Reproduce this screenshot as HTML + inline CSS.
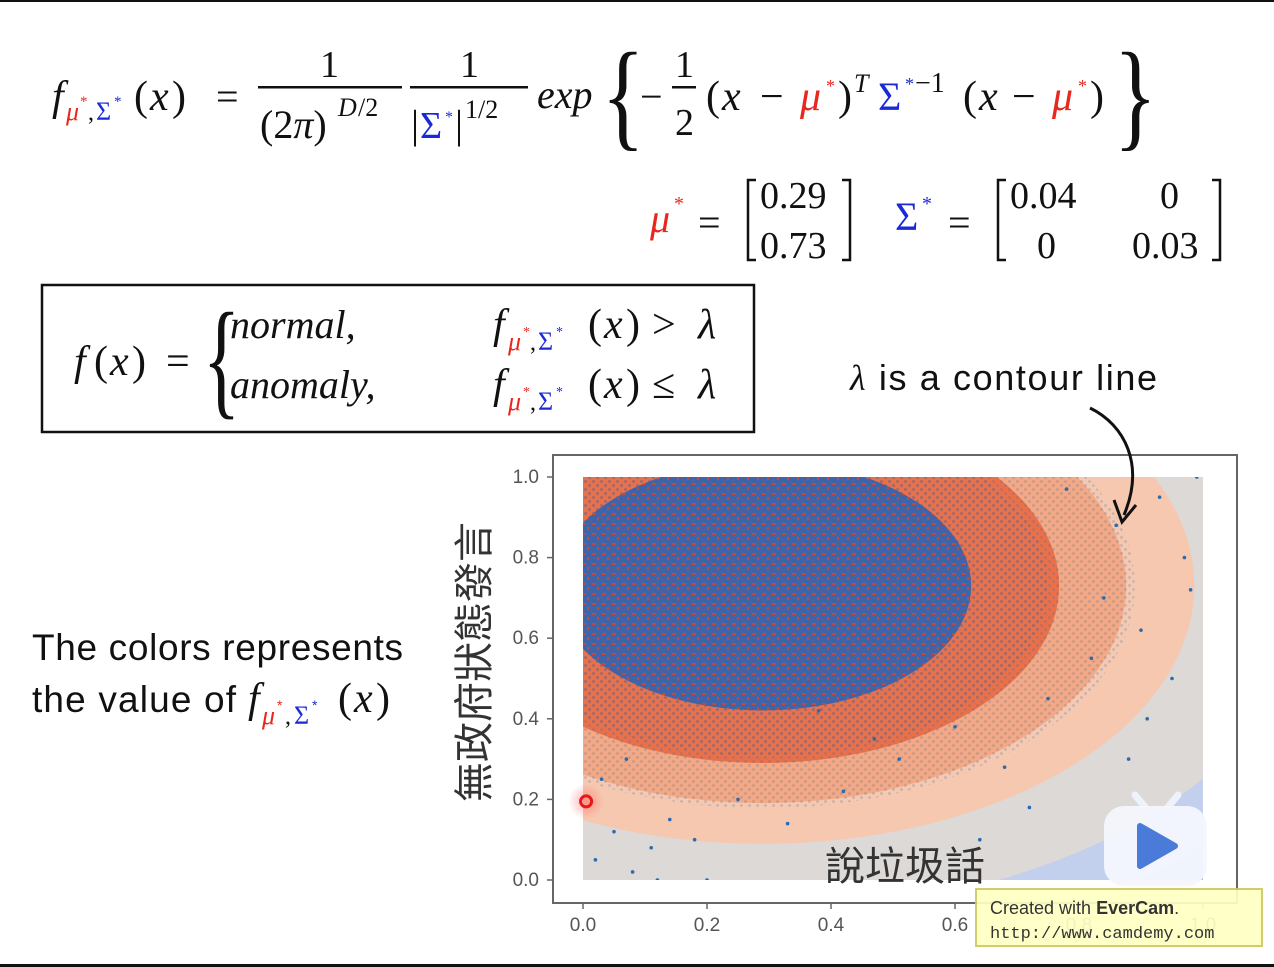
<!DOCTYPE html>
<html><head><meta charset="utf-8"><style>
html,body{margin:0;padding:0;background:#fff;}
svg{display:block;}
.ser{font-family:"Liberation Serif","DejaVu Serif",serif;}
.it{font-style:italic;}
.sans{font-family:"Liberation Sans","DejaVu Sans",sans-serif;}
.r{fill:#e8281e;} .b{fill:#1a2ad8;}
</style></head><body>
<svg id="root" width="1274" height="967" viewBox="0 0 1274 967" xmlns="http://www.w3.org/2000/svg">
<rect x="0" y="0" width="1274" height="967" fill="#fff"/>
<rect x="0" y="0" width="1274" height="2" fill="#111"/>
<rect x="0" y="964" width="1274" height="3" fill="#111"/>

<g class="ser" fill="#111">
  <text x="52" y="110" font-size="42" class="it">f</text>
  <text x="66" y="120" font-size="26" class="it r">μ</text><text x="80" y="106" font-size="15" class="r">*</text>
  <text x="88" y="120" font-size="24">,</text>
  <text x="96" y="120" font-size="26" class="b">Σ</text><text x="114" y="106" font-size="15" class="b">*</text>
  <text x="134" y="110" font-size="42">(</text><text x="150" y="110" font-size="42" class="it">x</text><text x="172" y="110" font-size="42">)</text>
  <text x="216" y="110" font-size="40">=</text>
  <text x="320" y="77" font-size="38">1</text>
  <rect x="258" y="86" width="144" height="2.5"/>
  <text x="260" y="138" font-size="40">(2<tspan class="it">π</tspan>)</text>
  <text x="338" y="116" font-size="26" class="it">D</text><text x="358" y="116" font-size="26">/2</text>
  <text x="460" y="77" font-size="38">1</text>
  <rect x="410" y="86" width="118" height="2.5"/>
  <text x="411" y="138" font-size="40">|</text><text x="420" y="138" font-size="38" class="b">Σ</text><text x="445" y="122" font-size="16" class="b">*</text>
  <text x="455" y="138" font-size="40">|</text><text x="465" y="118" font-size="26">1/2</text>
  <text x="537" y="108" font-size="40" class="it">exp</text>
  <text x="602" y="135" font-size="120" transform="scale(0.75,1) translate(200,0)">{</text>
  <text x="640" y="110" font-size="40">−</text>
  <text x="675" y="77" font-size="38">1</text>
  <rect x="672" y="86" width="24" height="2.5"/>
  <text x="675" y="135" font-size="38">2</text>
  <text x="706" y="110" font-size="42">(</text><text x="722" y="110" font-size="42" class="it">x</text>
  <text x="760" y="110" font-size="42">−</text><text x="800" y="110" font-size="42" class="it r">μ</text><text x="826" y="92" font-size="18" class="r">*</text>
  <text x="838" y="110" font-size="42">)</text><text x="854" y="92" font-size="26" class="it">T</text>
  <text x="878" y="110" font-size="40" class="b">Σ</text><text x="905" y="90" font-size="18" class="b">*</text>
  <text x="915" y="92" font-size="28">−1</text>
  <text x="963" y="110" font-size="42">(</text><text x="979" y="110" font-size="42" class="it">x</text>
  <text x="1012" y="110" font-size="42">−</text><text x="1052" y="110" font-size="42" class="it r">μ</text><text x="1078" y="92" font-size="18" class="r">*</text>
  <text x="1090" y="110" font-size="42">)</text>
  <text x="1110" y="135" font-size="120" transform="scale(0.75,1) translate(375,0)">}</text>
</g>

<g class="ser" fill="#111">
  <text x="650" y="232" font-size="40" class="it r">μ</text><text x="674" y="210" font-size="20" class="r">*</text>
  <text x="698" y="236" font-size="40">=</text>
  <path d="M756,180 h-8 v80 h8 M842,180 h8 v80 h-8" fill="none" stroke="#111" stroke-width="2.5"/>
  <text x="760" y="208" font-size="38">0.29</text>
  <text x="760" y="258" font-size="38">0.73</text>
  <text x="895" y="230" font-size="40" class="b">Σ</text><text x="922" y="210" font-size="20" class="b">*</text>
  <text x="948" y="236" font-size="40">=</text>
  <path d="M1006,180 h-8 v80 h8 M1212,180 h8 v80 h-8" fill="none" stroke="#111" stroke-width="2.5"/>
  <text x="1010" y="208" font-size="38">0.04</text>
  <text x="1160" y="208" font-size="38">0</text>
  <text x="1037" y="258" font-size="38">0</text>
  <text x="1132" y="258" font-size="38">0.03</text>
</g>

<g class="ser" fill="#111">
  <rect x="42" y="285" width="712" height="147" fill="none" stroke="#111" stroke-width="2.5"/>
  <text x="74" y="375" font-size="42" class="it">f</text><text x="94" y="375" font-size="42">(</text><text x="110" y="375" font-size="42" class="it">x</text><text x="132" y="375" font-size="42">)</text>
  <text x="166" y="375" font-size="42">=</text>
  <text x="198" y="402" font-size="130" transform="scale(0.6,1) translate(140,0)">{</text>
  <text x="230" y="338" font-size="40" class="it">normal,</text>
  <text x="230" y="398" font-size="40" class="it">anomaly,</text>
  <text x="493" y="338" font-size="42" class="it">f</text>
  <text x="508" y="350" font-size="26" class="it r">μ</text><text x="523" y="336" font-size="14" class="r">*</text>
  <text x="530" y="350" font-size="24">,</text><text x="538" y="350" font-size="26" class="b">Σ</text><text x="556" y="336" font-size="14" class="b">*</text>
  <text x="588" y="338" font-size="42">(</text><text x="604" y="338" font-size="42" class="it">x</text><text x="626" y="338" font-size="42">)</text><text x="652" y="338" font-size="42">&gt;</text><text x="698" y="338" font-size="42" class="it">λ</text>
  <text x="493" y="398" font-size="42" class="it">f</text>
  <text x="508" y="410" font-size="26" class="it r">μ</text><text x="523" y="396" font-size="14" class="r">*</text>
  <text x="530" y="410" font-size="24">,</text><text x="538" y="410" font-size="26" class="b">Σ</text><text x="556" y="396" font-size="14" class="b">*</text>
  <text x="588" y="398" font-size="42">(</text><text x="604" y="398" font-size="42" class="it">x</text><text x="626" y="398" font-size="42">)</text><text x="652" y="398" font-size="42">≤</text><text x="698" y="398" font-size="42" class="it">λ</text>
</g>

<text x="850" y="390" font-size="36" class="sans" fill="#111" textLength="307"><tspan class="ser it">λ</tspan> is a contour line</text>

<g class="sans" fill="#111" font-size="37">
  <text x="32" y="660" textLength="371">The colors represents</text>
  <text x="32" y="712" textLength="204">the value of</text>
  <text x="248" y="712" font-size="42" class="ser it">f</text>
  <text x="262" y="724" font-size="26" class="ser it r">μ</text><text x="277" y="710" font-size="14" class="r">*</text>
  <text x="285" y="724" font-size="24" class="ser">,</text><text x="294" y="724" font-size="26" class="ser b">Σ</text><text x="312" y="710" font-size="14" class="b">*</text>
  <text x="338" y="712" font-size="42" class="ser">(</text><text x="354" y="712" font-size="42" class="ser it">x</text><text x="376" y="712" font-size="42" class="ser">)</text>
</g>

<g id="chart"></g>

<path d="M1090,408 C1125,425 1145,465 1124,515" fill="none" stroke="#111" stroke-width="3"/>
<path d="M1114,500 L1122,522 L1136,505" fill="none" stroke="#111" stroke-width="3"/>

<g>
  <path d="M1135,795 l10,12 M1178,795 l-10,12" stroke="#eef2fb" stroke-width="7" stroke-linecap="round"/>
  <rect x="1104" y="806" width="103" height="80" rx="20" fill="#f4f7fd" opacity="0.95"/>
  <path d="M1140,826 L1175,846 L1140,866 Z" fill="#4a7bd8" stroke="#4a7bd8" stroke-width="6" stroke-linejoin="round"/>
</g>
<g>
  <rect x="976" y="889" width="286" height="57" fill="#ffffc4" stroke="#d0c860" stroke-width="2" opacity="0.92"/>
  <text x="990" y="914" font-size="18" class="sans" fill="#333">Created with <tspan font-weight="bold">EverCam</tspan>.</text>
  <text x="990" y="938" font-size="17" font-family="Liberation Mono, monospace" fill="#333">http://www.camdemy.com</text>
</g>
</svg>
<script>
const muX = 0.29, muY = 0.73;
const sdX = 0.20, sdY = 0.184;
const levels = [5.6, 5.0, 4.4, 3.48, 2.93, 2.39, 1.68];
const levelColors = ['#a3bcf1', '#c2d0ee', '#dcd9d6', '#f6c8b0', '#f5a884', '#ea7049', '#4363a6'];
const bgColor = '#84a4ea';
const xTicks = [0, 0.2, 0.4, 0.6, 0.8, 1.0];
const xTickLabels = ['0.0', '0.2', '0.4', '0.6', '0.8', '1.0'];
const yTicks = [0, 0.2, 0.4, 0.6, 0.8, 1.0];
const yTickLabels = ['0.0', '0.2', '0.4', '0.6', '0.8', '1.0'];
const ptsX = [0.02,0.05,0.08,0.11,0.14,0.03,0.07,0.18,0.25,0.33,0.42,0.51,0.6,0.68,0.75,0.82,0.9,0.95,0.98,0.86,0.78,0.93,0.99,0.88,0.72,0.64,0.55,0.47,0.38,0.12,0.2,0.97,0.91,0.84];
const ptsY = [0.05,0.12,0.02,0.08,0.15,0.25,0.3,0.1,0.2,0.14,0.22,0.3,0.38,0.28,0.45,0.55,0.62,0.5,0.72,0.88,0.97,0.95,1.0,0.3,0.18,0.1,0.05,0.35,0.42,0.0,0.0,0.8,0.4,0.7];
const ptX = 0.005, ptY = 0.195;

const NS = 'http://www.w3.org/2000/svg';
const X0 = 583, X1 = 1203, Y0 = 880, Y1 = 477;
const sx = v => X0 + v * (X1 - X0);
const sy = v => Y0 - v * (Y0 - Y1);
const g = document.getElementById('chart');
function mk(tag, attrs, parent) { const e = document.createElementNS(NS, tag); for (const k in attrs) e.setAttribute(k, attrs[k]); (parent || g).appendChild(e); return e; }

const defs = mk('defs', {});
const cp = mk('clipPath', {id: 'plotclip'}, defs);
mk('rect', {x: X0, y: Y1, width: X1 - X0, height: Y0 - Y1}, cp);
const pat = mk('pattern', {id: 'dots', width: 8, height: 8, patternUnits: 'userSpaceOnUse'}, defs);
mk('circle', {cx: 1.5, cy: 1.5, r: 1.4, fill: '#2a6aaf'}, pat);
mk('circle', {cx: 5.5, cy: 5.5, r: 1.4, fill: '#2a6aaf'}, pat);
const pat2 = mk('pattern', {id: 'reds', width: 10, height: 10, patternUnits: 'userSpaceOnUse'}, defs);
mk('rect', {x: 2, y: 3, width: 4, height: 2, fill: '#d9432a'}, pat2);
mk('rect', {x: 7, y: 7, width: 2, height: 3, fill: '#d9432a'}, pat2);
const gl = mk('radialGradient', {id: 'glow'}, defs);
mk('stop', {offset: '0', 'stop-color': '#ff6060', 'stop-opacity': '0.5'}, gl);
mk('stop', {offset: '1', 'stop-color': '#ff6060', 'stop-opacity': '0'}, gl);

const frame = mk('rect', {x: 553, y: 455, width: 684, height: 448, fill: 'none', stroke: '#666', 'stroke-width': 2});



const plot = mk('g', {'clip-path': 'url(#plotclip)'});


const bg = mk('rect', {x: X0, y: Y1, width: X1 - X0, height: Y0 - Y1, fill: bgColor}, plot);


const cx = sx(muX), cy = sy(muY);
const ux = X1 - X0, uy = Y0 - Y1;
levels.forEach((d, i) => {
  const e = mk('ellipse', {cx: cx, cy: cy, rx: d * sdX * ux, ry: d * sdY * uy, fill: levelColors[i]}, plot);
  
  
});
const sc1 = mk('ellipse', {cx: cx, cy: cy, rx: 3.0 * sdX * ux, ry: 3.0 * sdY * uy, fill: 'url(#dots)', opacity: 0.25}, plot);


const sc2 = mk('ellipse', {cx: cx, cy: cy, rx: 2.3 * sdX * ux, ry: 2.3 * sdY * uy, fill: 'url(#dots)', opacity: 0.35}, plot);


const sc3 = mk('ellipse', {cx: cx, cy: cy, rx: 1.68 * sdX * ux, ry: 1.68 * sdY * uy, fill: 'url(#reds)', opacity: 0.85}, plot);


ptsX.forEach((v, i) => {
  const c = mk('circle', {cx: sx(v), cy: sy(ptsY[i]), r: 1.8, fill: '#2a6aaf'}, plot);
  
  
});

const glow = mk('circle', {cx: sx(ptX), cy: sy(ptY), r: 18, fill: 'url(#glow)'});


const an = mk('circle', {cx: sx(ptX), cy: sy(ptY), r: 5.5, fill: 'none', stroke: '#e81818', 'stroke-width': 3});



xTicks.forEach((v, i) => {
  const t = mk('line', {x1: sx(v), x2: sx(v), y1: 903, y2: 909, stroke: '#666', 'stroke-width': 1.5});
  
  
  const l = mk('text', {x: sx(v), y: 931, 'text-anchor': 'middle', 'font-size': 19, fill: '#555', 'font-family': 'Liberation Sans, sans-serif'});
  l.textContent = xTickLabels[i];
  
  
});
yTicks.forEach((v, i) => {
  const t = mk('line', {x1: 547, x2: 553, y1: sy(v), y2: sy(v), stroke: '#666', 'stroke-width': 1.5});
  
  
  const l = mk('text', {x: 539, y: sy(v) + 6, 'text-anchor': 'end', 'font-size': 19, fill: '#555', 'font-family': 'Liberation Sans, sans-serif'});
  l.textContent = yTickLabels[i];
  
  
});
const yt = mk('text', {x: 0, y: 0, 'font-size': 40, fill: '#333', 'text-anchor': 'middle', 'font-family': 'Noto Sans CJK TC, WenQuanYi Zen Hei, sans-serif', transform: 'translate(488,662) rotate(-90)'});
yt.textContent = '無政府狀態發言';


const xt = mk('text', {x: 905, y: 880, 'font-size': 40, fill: '#333', 'text-anchor': 'middle', 'font-family': 'Noto Sans CJK TC, WenQuanYi Zen Hei, sans-serif'});
xt.textContent = '說垃圾話';


</script>
</body></html>
